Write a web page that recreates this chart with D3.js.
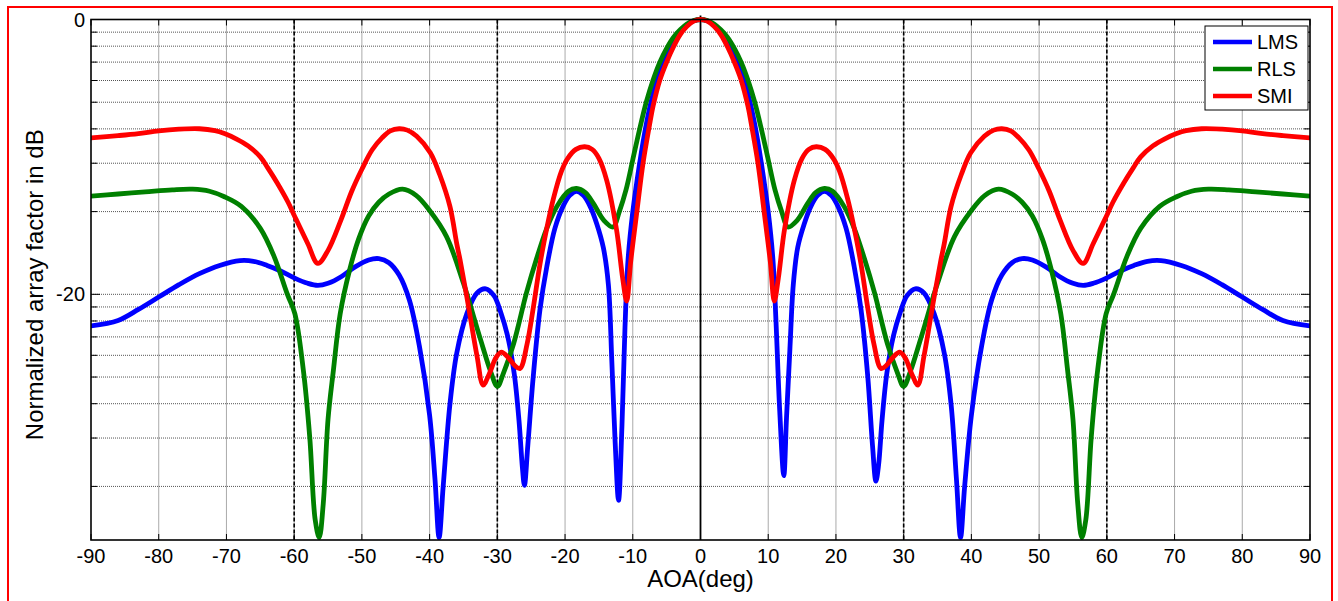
<!DOCTYPE html>
<html>
<head>
<meta charset="utf-8">
<script src="https://cdn.jsdelivr.net/npm/d3@7"></script>
<style>
  html, body { margin: 0; padding: 0; background: #fff; }
  svg { display: block; font-family: "Liberation Sans", Arial, sans-serif; }
</style>
</head>
<body>
<svg id="chart" width="1338" height="601"></svg>
<script>
// ---------------- DATA ----------------
const xTicks = [-90, -80, -70, -60, -50, -40, -30, -20, -10, 0, 10, 20, 30, 40, 50, 60, 70, 80, 90];
const yTickValues = [0, -20];
const yTickLabels = ["0", "-20"];
// horizontal grid positions (dB) of the log-style minor grid
const yGrid = [0, -0.92, -1.94, -3.10, -4.44, -6.02, -7.96, -10.46, -13.98, -20,
               -20.92, -21.94, -23.10, -24.44, -26.02, -27.96, -30.46, -33.98];
const dashedMarkers = [-60, -30, 30, 60];
const seriesNames = ["LMS", "RLS", "SMI"];

const lmsAOA = [-90,-86,-83,-80,-77,-74,-71,-68,-66,-64,-62,-60,-58,-56.5,-55,-53,-51,-49,-47.5,-46,-44.5,-43,-41.5,-40,-39.2,-38.6,-38,-37,-36,-34.5,-33,-31.7,-30.5,-29.5,-28.5,-27.5,-26.8,-26.3,-26,-25.5,-24.7,-23.7,-22.7,-21.5,-20.3,-19.3,-18.3,-17.3,-16.3,-15.3,-14.35,-13.6,-13.1,-12.6,-12.1,-11.6,-11.15,-10.7,-10,-9,-8,-7,-6,-5,-4,-3,-2,-1,0,
  1,2,3,4,5,6,7,8,9,10,10.7,11.15,11.7,12.3,12.7,13.2,13.7,14.35,15.3,16.3,17.3,18.3,19.3,20.3,21.5,22.7,23.7,24.7,25.4,25.9,26.3,26.8,27.5,28.5,29.5,30.5,31.7,33,34.5,36,37,37.8,38.4,39,40,41.5,43,44.5,46,47.5,49,51,53,55,56.5,58,60,62,64,66,68,71,74,77,80,83,86,90];
const lmsDB = [-22.3,-21.9,-21.1,-20.2,-19.3,-18.5,-17.9,-17.55,-17.6,-17.9,-18.3,-18.8,-19.2,-19.35,-19.2,-18.7,-18.0,-17.5,-17.4,-17.7,-18.6,-20.4,-23.8,-28.8,-33.5,-37.7,-34.0,-28.0,-24.3,-21.4,-19.9,-19.6,-20.1,-21.3,-23.0,-25.8,-29.2,-32.6,-33.9,-31.0,-26.0,-21.1,-18.0,-15.2,-13.6,-12.8,-12.5,-12.8,-13.6,-14.9,-16.6,-19.3,-24.8,-30.8,-35.0,-29.6,-22.4,-17.5,-14.0,-10.5,-7.6,-5.4,-3.8,-2.6,-1.65,-0.95,-0.42,-0.1,0,
  -0.1,-0.42,-0.95,-1.65,-2.6,-3.8,-5.4,-7.6,-10.5,-14.0,-17.5,-22.0,-28.5,-33.2,-29.0,-24.0,-19.3,-16.6,-14.9,-13.6,-12.8,-12.5,-12.8,-13.6,-15.2,-18.0,-21.1,-26.0,-31.0,-33.6,-32.4,-29.2,-25.8,-23.0,-21.3,-20.1,-19.6,-19.9,-21.4,-24.3,-28.0,-33.5,-37.7,-34.0,-28.8,-23.8,-20.4,-18.6,-17.7,-17.4,-17.5,-18.0,-18.7,-19.2,-19.35,-19.2,-18.8,-18.3,-17.9,-17.6,-17.55,-17.9,-18.5,-19.3,-20.2,-21.1,-21.9,-22.3];

const rlsAOA = [-90,-86,-82,-78,-75,-72.5,-70.3,-67.8,-65,-63,-61,-59.9,-58.65,-57.7,-56.9,-56.3,-55.7,-55,-54.2,-53.2,-51.8,-50.5,-49,-47.5,-46,-44,-42,-40,-37.5,-35,-32.6,-31,-30,-29,-27.6,-25.7,-24.2,-22.7,-21.2,-19.5,-18.3,-17,-15.8,-14.3,-12.9,-12,-11,-10,-9,-8,-7,-6,-5,-4,-3,-2,-1,0,
  1,2,3,4,5,6,7,8,9,10,11,12,12.9,14.3,15.8,17,18.3,19.5,21.2,22.7,24.2,25.7,27.6,29,30,31,32.6,35,37.5,40,42,44,46,47.5,49,50.5,51.8,53.2,54.2,55,55.7,56.3,56.9,57.7,58.65,59.9,61,63,65,67.8,70.3,72.5,75,78,82,86,90];
const rlsDB = [-12.85,-12.7,-12.55,-12.4,-12.35,-12.5,-12.9,-13.6,-15.2,-17.2,-20.0,-21.4,-25.5,-30.4,-36.4,-37.7,-35.2,-29.1,-25.5,-21.4,-18.2,-16.0,-14.3,-13.3,-12.7,-12.35,-12.8,-13.9,-15.8,-19.2,-23.1,-25.6,-26.7,-25.6,-23.6,-19.9,-17.4,-15.2,-13.6,-12.5,-12.3,-12.6,-13.4,-14.6,-15.1,-14.0,-12.4,-10.2,-8.0,-6.0,-4.4,-3.1,-2.1,-1.3,-0.75,-0.33,-0.08,0,
  -0.08,-0.33,-0.75,-1.3,-2.1,-3.1,-4.4,-6.0,-8.0,-10.2,-12.4,-14.0,-15.1,-14.6,-13.4,-12.6,-12.3,-12.5,-13.6,-15.2,-17.4,-19.9,-23.6,-25.6,-26.7,-25.6,-23.1,-19.2,-15.8,-13.9,-12.8,-12.35,-12.7,-13.3,-14.3,-16.0,-18.2,-21.4,-25.5,-29.1,-35.2,-37.7,-36.4,-30.4,-25.5,-21.4,-20.0,-17.2,-15.2,-13.6,-12.9,-12.5,-12.35,-12.4,-12.55,-12.7,-12.85];

const smiAOA = [-90,-86,-83,-80,-77,-74,-71.7,-70.3,-68.5,-66.8,-65,-63.9,-62.5,-60.9,-59.9,-58,-56.5,-55,-53.1,-51.5,-50,-48.5,-47,-45.8,-44.5,-43.3,-41.9,-39.9,-38.5,-37,-36,-35.5,-34.5,-33,-32.1,-31.2,-30.2,-29.4,-28.4,-27.4,-26.65,-25.6,-24.7,-23.7,-22.7,-21.7,-20.5,-19.6,-18.4,-17.1,-16,-15,-13.85,-12.4,-11.5,-10.9,-10.3,-9.4,-8.5,-7.5,-7,-6,-5,-4,-3,-2,-1,0,
  1,2,3,4,5,6,7,7.5,8.5,9.4,10.3,10.9,11.5,12.4,13.85,15,16,17.1,18.4,19.6,20.5,21.7,22.7,23.7,24.7,25.6,26.65,27.4,28.4,29.4,30.2,31.2,32.1,33,34.5,35.5,36,37,38.5,39.9,41.9,43.3,44.5,45.8,47,48.5,50,51.5,53.1,55,56.5,58,59.9,60.9,62.5,63.9,65,66.8,68.5,70.3,71.7,74,77,80,83,86,90];
const smiDB = [-8.62,-8.45,-8.3,-8.1,-7.98,-7.95,-8.09,-8.3,-8.7,-9.2,-10.0,-10.8,-11.9,-13.3,-14.35,-16.3,-17.75,-16.8,-14.6,-12.5,-10.9,-9.5,-8.6,-8.1,-7.95,-8.05,-8.5,-9.7,-11.3,-13.6,-16.3,-17.5,-20.2,-24.5,-26.6,-25.8,-24.6,-24.2,-24.6,-25.2,-25.4,-23.6,-21.0,-17.8,-15.2,-13.0,-11.0,-10.1,-9.45,-9.26,-9.45,-10.1,-11.7,-15.3,-18.8,-20.5,-17.6,-14.0,-10.5,-7.6,-6.3,-4.4,-3.1,-2.0,-1.1,-0.5,-0.12,0,
  -0.12,-0.5,-1.1,-2.0,-3.1,-4.4,-6.3,-7.6,-10.5,-14.0,-17.6,-20.5,-18.8,-15.3,-11.7,-10.1,-9.45,-9.26,-9.45,-10.1,-11.0,-13.0,-15.2,-17.8,-21.0,-23.6,-25.4,-25.2,-24.6,-24.2,-24.6,-25.8,-26.6,-24.5,-20.2,-17.5,-16.3,-13.6,-11.3,-9.7,-8.5,-8.05,-7.95,-8.1,-8.6,-9.5,-10.9,-12.5,-14.6,-16.8,-17.75,-16.3,-14.35,-13.3,-11.9,-10.8,-10.0,-9.2,-8.7,-8.3,-8.09,-7.95,-7.98,-8.1,-8.3,-8.45,-8.62];

const seriesColors = ["#0000ff", "#008000", "#ff0000"];

// ---------------- LAYOUT ----------------
const svg = d3.select("#chart");
const L = 91, R = 1310, T = 19.5, B = 540;
const yMin = -37.88;
const x = d3.scaleLinear().domain([-90, 90]).range([L, R]);
const y = d3.scaleLinear().domain([yMin, 0]).range([B, T]);

// outer red frame
svg.append("rect").attr("x", 8).attr("y", 7).attr("width", 1324).attr("height", 610)
  .attr("fill", "none").attr("stroke", "#ff0000").attr("stroke-width", 2);

svg.append("defs").append("clipPath").attr("id", "clip")
  .append("rect").attr("x", L).attr("y", T - 3).attr("width", R - L).attr("height", B - T + 3);

// grid
const grid = svg.append("g");
grid.selectAll("line.vg").data(xTicks.filter(d => d > -90 && d < 90))
  .enter().append("line")
  .attr("x1", d => x(d)).attr("x2", d => x(d)).attr("y1", T).attr("y2", B)
  .attr("stroke", "#555").attr("stroke-width", 1).attr("stroke-dasharray", "1,1");
grid.selectAll("line.hg").data(yGrid.filter(d => d < 0))
  .enter().append("line")
  .attr("x1", L).attr("x2", R).attr("y1", d => y(d)).attr("y2", d => y(d))
  .attr("stroke", "#555").attr("stroke-width", 1).attr("stroke-dasharray", "1,1");

// dashed marker lines and solid zero line
svg.selectAll("line.dm").data(dashedMarkers).enter().append("line")
  .attr("x1", d => x(d)).attr("x2", d => x(d)).attr("y1", T).attr("y2", B)
  .attr("stroke", "#000").attr("stroke-width", 1.6).attr("stroke-dasharray", "4,2");
svg.append("line").attr("x1", x(0)).attr("x2", x(0)).attr("y1", T - 4).attr("y2", B)
  .attr("stroke", "#000").attr("stroke-width", 1.8);

// curves
const series = [
  {name: seriesNames[0], aoa: lmsAOA, db: lmsDB, color: seriesColors[0]},
  {name: seriesNames[1], aoa: rlsAOA, db: rlsDB, color: seriesColors[1]},
  {name: seriesNames[2], aoa: smiAOA, db: smiDB, color: seriesColors[2]}
];
const line = d3.line().x(d => x(d[0])).y(d => y(d[1])).curve(d3.curveCatmullRom.alpha(0.5));
const plot = svg.append("g").attr("clip-path", "url(#clip)");
series.forEach(s => {
  plot.append("path").datum(s.aoa.map((a, i) => [a, s.db[i]]))
    .attr("d", line).attr("fill", "none").attr("stroke", s.color)
    .attr("stroke-width", 4.8).attr("stroke-linejoin", "round").attr("stroke-linecap", "round");
});

// axes box
svg.append("rect").attr("x", L).attr("y", T).attr("width", R - L).attr("height", B - T)
  .attr("fill", "none").attr("stroke", "#000").attr("stroke-width", 1.6);

// x ticks (inside, bottom and top) + labels
const ax = svg.append("g");
xTicks.forEach(t => {
  ax.append("line").attr("x1", x(t)).attr("x2", x(t)).attr("y1", B).attr("y2", B - 6)
    .attr("stroke", "#000").attr("stroke-width", 1);
  ax.append("line").attr("x1", x(t)).attr("x2", x(t)).attr("y1", T).attr("y2", T + 6)
    .attr("stroke", "#000").attr("stroke-width", 1);
});
ax.selectAll("text.xt").data(xTicks).enter().append("text")
  .attr("x", d => x(d)).attr("y", 563).attr("text-anchor", "middle")
  .attr("font-size", 20).attr("fill", "#000").text(d => d);

// y ticks
yGrid.forEach(g => {
  const len = yTickValues.includes(g) ? 9 : 6;
  ax.append("line").attr("x1", L).attr("x2", L + len).attr("y1", y(g)).attr("y2", y(g))
    .attr("stroke", "#000").attr("stroke-width", 1);
  ax.append("line").attr("x1", R).attr("x2", R - len).attr("y1", y(g)).attr("y2", y(g))
    .attr("stroke", "#000").attr("stroke-width", 1);
});
ax.selectAll("text.yt").data(yTickValues).enter().append("text")
  .attr("x", L - 6).attr("y", d => y(d) + 7).attr("text-anchor", "end")
  .attr("font-size", 20).attr("fill", "#000").text((d, i) => yTickLabels[i]);

// axis titles
svg.append("text").attr("x", (L + R) / 2).attr("y", 587).attr("text-anchor", "middle")
  .attr("font-size", 24).attr("fill", "#000").text("AOA(deg)");
svg.append("text").attr("transform", `translate(43, ${(T + B) / 2 + 5}) rotate(-90)`)
  .attr("text-anchor", "middle").attr("font-size", 24).attr("fill", "#000")
  .text("Normalized array factor in dB");

// legend
const lg = svg.append("g");
lg.append("rect").attr("x", 1205).attr("y", 26).attr("width", 103).attr("height", 84)
  .attr("fill", "#fff").attr("stroke", "#000").attr("stroke-width", 1);
series.forEach((s, i) => {
  const yy = 42 + i * 27;
  lg.append("line").attr("x1", 1213).attr("x2", 1252).attr("y1", yy).attr("y2", yy)
    .attr("stroke", s.color).attr("stroke-width", 4.5);
  lg.append("text").attr("x", 1257).attr("y", yy + 7).attr("font-size", 20)
    .attr("fill", "#000").text(s.name);
});
</script>
</body>
</html>
